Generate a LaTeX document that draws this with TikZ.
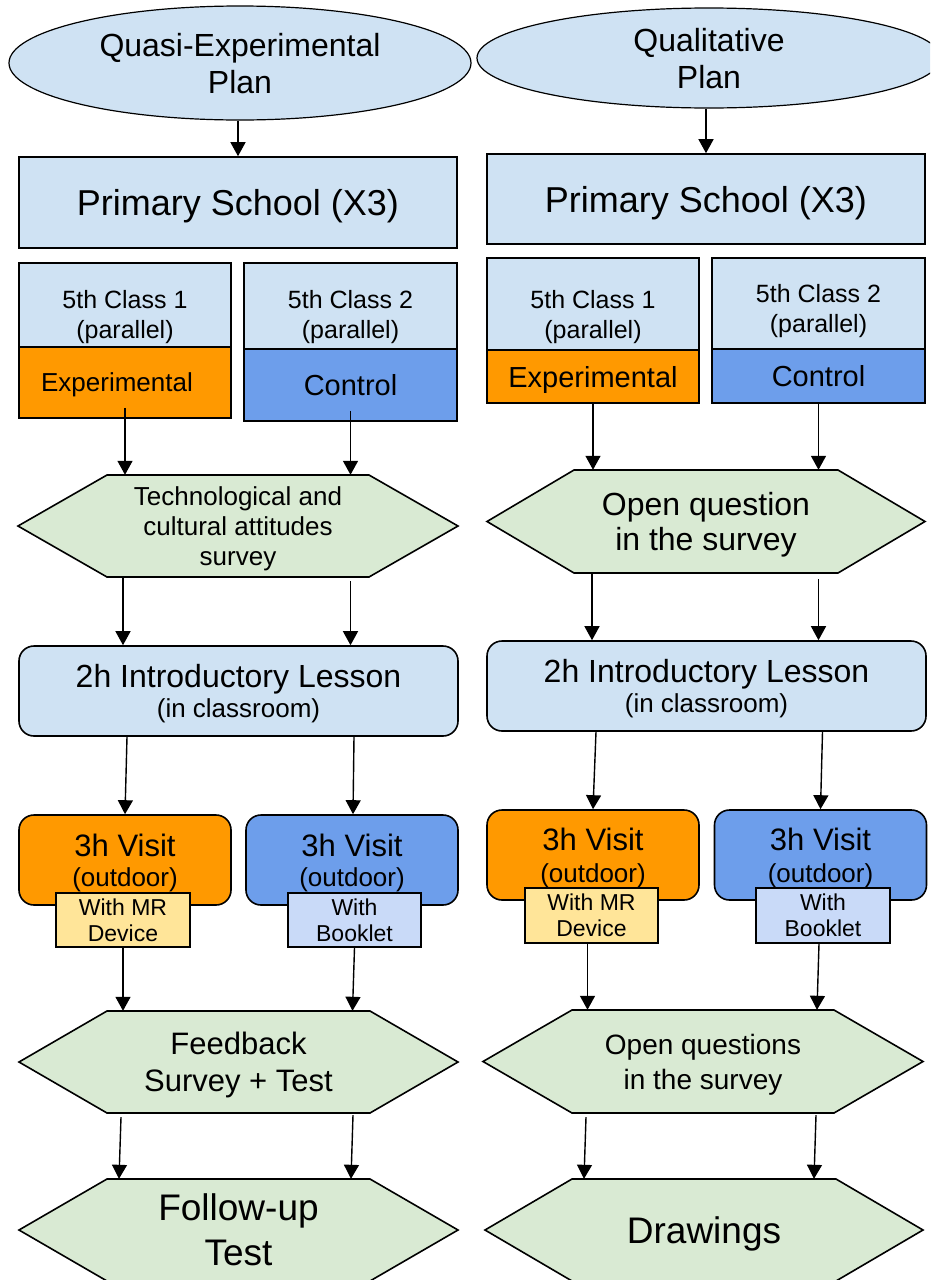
\documentclass[tikz,border=0pt]{standalone}
\usepackage{fontspec}
\setmainfont{Liberation Sans}
\usetikzlibrary{shapes.geometric,arrows.meta,calc}
\definecolor{lblue}{HTML}{CFE2F3}
\definecolor{orng}{HTML}{FF9900}
\definecolor{cblue}{HTML}{6D9EEB}
\definecolor{hgreen}{HTML}{D9EAD3}
\definecolor{pyellow}{HTML}{FFE599}
\definecolor{pblue}{HTML}{C9DAF8}
\newcommand\fs[2]{\fontsize{#1}{#2}\selectfont}
\newcommand\myhex[5]{\filldraw[hexd] ({#1-#3/2},{#2}) -- ({#1-#3/2+#5},{#2-#4/2}) -- ({#1+#3/2-#5},{#2-#4/2}) -- ({#1+#3/2},{#2}) -- ({#1+#3/2-#5},{#2+#4/2}) -- ({#1-#3/2+#5},{#2+#4/2}) -- cycle;}
\begin{document}
\begin{tikzpicture}[x=1pt,y=-1pt,
  base/.style={draw=black, line width=1.6pt, inner sep=0pt, align=center, text=black, text depth=0pt},
  ell/.style={base, ellipse, fill=lblue, line width=1.2pt},
  box/.style={base, rectangle, fill=lblue},
  rbox/.style={base, rectangle, rounded corners=15pt},
  hexn/.style={inner sep=0pt, align=center, text depth=0pt},
  hexd/.style={draw=black, fill=hgreen, line width=1.6pt, line join=miter},
  arr/.style={-{Triangle[width=15pt,length=14pt]}, line width=1.4pt},
]
\useasboundingbox (0,0) rectangle (930,1280);
\clip (0,0) rectangle (930,1280);
\fill[white] (0,0) rectangle (930,1280);

% top ellipses
\node[ell, minimum width=462pt, minimum height=114pt, font=\fs{32}{37}] (e1) at (240,63) {Quasi-Experimental\\Plan};
\node[ell, minimum width=464pt, minimum height=100pt, font=\fs{32}{37}] (e2) at (709,58) {Qualitative\\Plan};

% primary school
\node[box, minimum width=438pt, minimum height=91pt, font=\fs{36}{41}] (ps1) at (238,202.5) {Primary School (X3)};
\node[box, minimum width=438pt, minimum height=90pt, font=\fs{36}{41}] (ps2) at (706,199) {Primary School (X3)};

% classes
\node[box, minimum width=212pt, minimum height=102pt, font=\fs{25}{30}] (c1L) at (125,314) {5th Class 1\\(parallel)};
\node[box, minimum width=213pt, minimum height=102pt, font=\fs{25}{30}] (c2L) at (350.5,314) {5th Class 2\\(parallel)};
\node[box, minimum width=212pt, minimum height=112pt, font=\fs{25}{30}] (c1R) at (593,314) {5th Class 1\\(parallel)};
\node[box, minimum width=213pt, minimum height=100pt, font=\fs{25}{30}] (c2R) at (818.5,308) {5th Class 2\\(parallel)};

\node[box, fill=orng, minimum width=212pt, minimum height=71pt, font=\fs{26}{30}] (xL) at (125,382.5) {Experimental\hspace*{16pt}};
\node[box, fill=cblue, minimum width=213pt, minimum height=72pt, font=\fs{29}{33}] (kL) at (350.5,385) {Control};
\node[box, fill=orng, minimum width=212pt, minimum height=53pt, font=\fs{29}{33}] (xR) at (593,376.5) {Experimental};
\node[box, fill=cblue, minimum width=213pt, minimum height=54pt, font=\fs{29}{33}] (kR) at (818.5,376) {Control};

% first survey hexagons
\myhex{238}{526}{440}{102}{89}
\node[hexn, minimum width=440pt, minimum height=102pt, font=\fs{26}{30}] (h1L) at (238,526) {Technological and\\cultural attitudes\\survey};
\myhex{706}{521.5}{438}{103}{87}
\node[hexn, minimum width=438pt, minimum height=103pt, font=\fs{32}{35}] (h1R) at (706,521.5) {Open question\\in the survey};

% introductory lessons
\node[rbox, fill=lblue, minimum width=439pt, minimum height=90pt, font=\fs{26}{30}] (i1) at (238.5,691) {{\fs{32}{36}2h Introductory Lesson}\\(in classroom)};
\node[rbox, fill=lblue, minimum width=439pt, minimum height=90pt, font=\fs{26}{30}] (i2) at (706.5,686) {{\fs{32}{36}2h Introductory Lesson}\\(in classroom)};

% visits
\node[rbox, fill=orng, minimum width=212pt, minimum height=90pt, font=\fs{26}{30}] (vL) at (125,860) {{\fs{31}{35}3h Visit}\\(outdoor)};
\node[rbox, fill=cblue, minimum width=212pt, minimum height=90pt, font=\fs{26}{30}] (vLb) at (352,860) {{\fs{31}{35}3h Visit}\\(outdoor)};
\node[rbox, fill=orng, minimum width=212pt, minimum height=90pt, font=\fs{26}{32}] (vR) at (593,855) {{\fs{31}{35}3h Visit}\\(outdoor)};
\node[rbox, fill=cblue, minimum width=212pt, minimum height=90pt, font=\fs{26}{32}] (vRb) at (820.5,855) {{\fs{31}{35}3h Visit}\\(outdoor)};

\node[box, fill=pyellow, minimum width=134pt, minimum height=54pt, font=\fs{23}{26}] (mL) at (123,920) {With MR\\Device};
\node[box, fill=pblue, minimum width=133pt, minimum height=54pt, font=\fs{23}{26}] (bL) at (354.5,920) {With\\Booklet};
\node[box, fill=pyellow, minimum width=133pt, minimum height=55pt, font=\fs{23}{26}] (mR) at (591.5,915.5) {With MR\\Device};
\node[box, fill=pblue, minimum width=134pt, minimum height=55pt, font=\fs{23}{26}] (bR) at (823,915.5) {With\\Booklet};

% second survey hexagons
\myhex{238.5}{1062}{439}{102}{88}
\node[hexn, minimum width=439pt, minimum height=102pt, font=\fs{31}{37}] (h2L) at (238.5,1062) {Feedback\\Survey + Test};
\myhex{703}{1061.5}{440}{103}{89}
\node[hexn, minimum width=440pt, minimum height=103pt, font=\fs{28}{35}] (h2R) at (703,1061.5) {Open questions\\in the survey};

% final hexagons
\myhex{238.5}{1230}{439}{102}{88}
\node[hexn, minimum width=439pt, minimum height=102pt, font=\fs{37}{45}] (h3L) at (238.5,1230) {Follow-up\\Test};
\myhex{704}{1230}{438}{102}{87}
\node[hexn, minimum width=438pt, minimum height=102pt, font=\fs{37}{45}] (h3R) at (704,1230) {Drawings};

% connectors
\draw[arr] (ps1.north |- e1.south) -- (ps1.north);
\draw[arr] (ps2.north |- e2.south) -- (ps2.north);

\draw[arr] ([yshift=11pt]xL.south) -- (xL.south |- h1L.north);
\draw[arr] ([yshift=11pt]kL.south) -- (kL.south |- h1L.north);
\draw[arr] (xR.south) -- (xR.south |- h1R.north);
\draw[arr] (kR.south) -- (kR.south |- h1R.north);

\draw[arr] ($(h1L.south -| xL.south)+(-2,0)$) -- ($(i1.north -| xL.south)+(-2,0)$);
\draw[arr] ($(h1L.south -| kL.south)+(0,4)$) -- (i1.north -| kL.south);
\draw[arr] ($(h1R.south -| xR.south)+(-1,0)$) -- ($(i2.north -| xR.south)+(-1,0)$);
\draw[arr] ($(h1R.south -| kR.south)+(0,6)$) -- (i2.north -| kR.south);

\draw[arr] ($(i1.south -| vL.north)+(2,0)$) -- (vL.north);
\draw[arr] ($(i1.south -| vLb.north)+(2,0)$) -- ($(vLb.north)+(1,0)$);
\draw[arr] ($(i2.south -| vR.north)+(3,0)$) -- (vR.north);
\draw[arr] ($(i2.south -| vRb.north)+(2,0)$) -- (vRb.north);

\draw[arr] (mL.south) -- (mL.south |- h2L.north);
\draw[arr] (bL.south) -- ($(bL.south |- h2L.north)+(-2,0)$);
\draw[arr] ($(mR.south)+(-4,0)$) -- ($(mR.south |- h2R.north)+(-4,0)$);
\draw[arr] ($(bR.south)+(-4,0)$) -- ($(bR.south |- h2R.north)+(-6,0)$);

\draw[arr] ($(h2L.south -| mL.south)+(-2,4)$) -- ($(h3L.north -| mL.south)+(-4,0)$);
\draw[arr] ($(h2L.south -| bL.south)+(-1.5,2)$) -- ($(h3L.north -| bL.south)+(-3.5,0)$);
\draw[arr] ($(h2R.south -| mR.south)+(-5.5,4)$) -- ($(h3R.north -| mR.south)+(-7.5,0)$);
\draw[arr] ($(h2R.south -| bR.south)+(-7,2)$) -- ($(h3R.north -| bR.south)+(-9,0)$);
\end{tikzpicture}
\end{document}
